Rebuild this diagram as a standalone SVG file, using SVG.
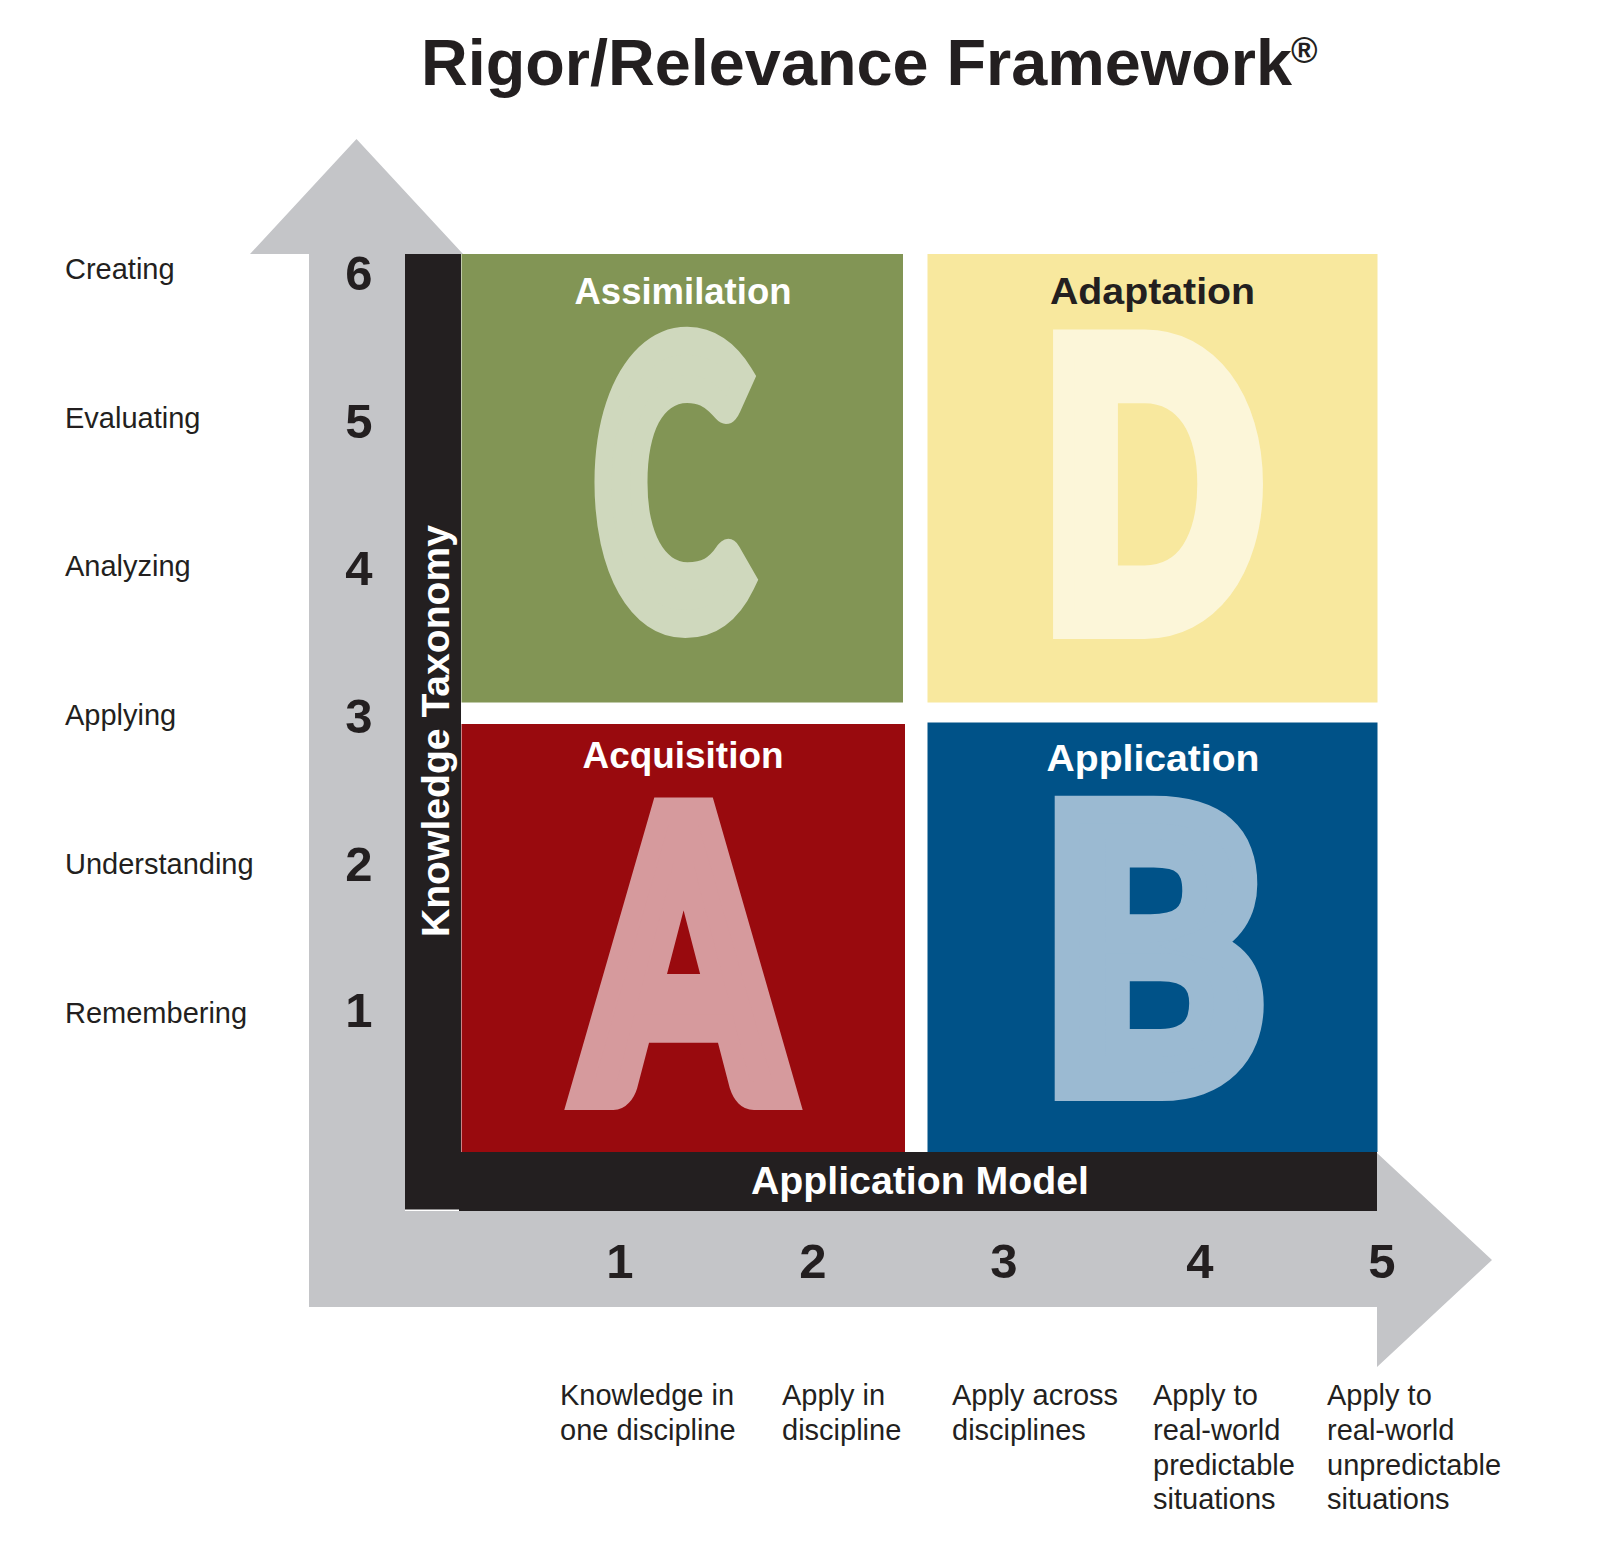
<svg xmlns="http://www.w3.org/2000/svg" width="1600" height="1543" viewBox="0 0 1600 1543">
<style>
.title{font-family:"Liberation Sans",Arial,sans-serif;font-weight:bold;fill:#231F20}
.lbl{font-family:"Liberation Sans",Arial,sans-serif;font-size:29px;fill:#231F20}
.num{font-family:"Liberation Sans",Arial,sans-serif;font-weight:bold;font-size:49px;fill:#231F20;text-anchor:middle}
.ql{font-family:"Liberation Sans",Arial,sans-serif;font-weight:bold;font-size:37px;text-anchor:middle}
.bar{font-family:"Liberation Sans",Arial,sans-serif;font-weight:bold;font-size:38px;fill:#FFFFFF;text-anchor:middle}
.big{font-family:"Lato","Liberation Sans",Arial,sans-serif;font-weight:900;text-anchor:middle;stroke-width:28;stroke-linejoin:miter}
</style>
<rect x="0" y="0" width="1600" height="1543" fill="#FFFFFF"/>
<g id="title">
<text class="title" x="421" y="85" font-size="65" textLength="871" lengthAdjust="spacingAndGlyphs">Rigor/Relevance Framework</text>
<text class="title" x="1291" y="63" font-size="36">®</text>
</g>
<g id="connectors">
<polygon points="309,1307 309,254 250,254 356.5,139 463,254 461,254 461,1211 1377,1211 1377,1153 1492,1260 1377,1367 1377,1307" fill="#C4C5C8"/>
<path d="M405,254 H461 V1152 H1377 V1211 H405 Z" fill="#231F20"/>
<rect x="405" y="1209.5" width="54" height="1.5" fill="#FFFFFF"/>
<text class="bar" transform="translate(449,731) rotate(-90)" textLength="412" lengthAdjust="spacingAndGlyphs">Knowledge Taxonomy</text>
<text class="bar" x="920" y="1194" textLength="338" lengthAdjust="spacingAndGlyphs">Application Model</text>
</g>
<g id="quadrant-C">
<rect x="461.5" y="254" width="441.5" height="448.5" fill="#829555"/>
<text class="ql" x="683" y="304" fill="#FFFFFF" textLength="217" lengthAdjust="spacingAndGlyphs">Assimilation</text>
<text class="big" x="672" y="621" font-size="382" fill="#CFD8BD" stroke="#CFD8BD" textLength="154" lengthAdjust="spacingAndGlyphs">C</text>
</g>
<g id="quadrant-D">
<rect x="927.5" y="254" width="450" height="448.5" fill="#F8E89E"/>
<text class="ql" x="1152.5" y="304" fill="#231F20" textLength="205" lengthAdjust="spacingAndGlyphs">Adaptation</text>
<text class="big" x="1152" y="625" font-size="388" fill="#FCF6D9" stroke="#FCF6D9" textLength="221" lengthAdjust="spacingAndGlyphs">D</text>
</g>
<g id="quadrant-A">
<rect x="461.5" y="724" width="443.5" height="428" fill="#990A0E"/>
<text class="ql" x="683" y="768" fill="#FFFFFF" textLength="201" lengthAdjust="spacingAndGlyphs">Acquisition</text>
<text class="big" x="683.5" y="1096" font-size="392" fill="#D69A9D" stroke="#D69A9D" textLength="203" lengthAdjust="spacingAndGlyphs">A</text>
</g>
<g id="quadrant-B">
<rect x="927.5" y="722.5" width="450" height="429.5" fill="#005288"/>
<text class="ql" x="1153" y="770.5" fill="#FFFFFF" textLength="213" lengthAdjust="spacingAndGlyphs">Application</text>
<text class="big" x="1153" y="1087" font-size="382" fill="#9BBAD2" stroke="#9BBAD2" textLength="223" lengthAdjust="spacingAndGlyphs">B</text>
</g>
<g id="rigor-levels">
<text class="lbl" x="65" y="279">Creating</text>
<text class="lbl" x="65" y="427.5">Evaluating</text>
<text class="lbl" x="65" y="576">Analyzing</text>
<text class="lbl" x="65" y="725">Applying</text>
<text class="lbl" x="65" y="874">Understanding</text>
<text class="lbl" x="65" y="1023">Remembering</text>
<text class="num" x="359" y="290">6</text>
<text class="num" x="359" y="438">5</text>
<text class="num" x="359" y="585">4</text>
<text class="num" x="359" y="733">3</text>
<text class="num" x="359" y="881">2</text>
<text class="num" x="359" y="1027">1</text>
</g>
<g id="relevance-levels">
<text class="num" x="620" y="1278">1</text>
<text class="num" x="813" y="1278">2</text>
<text class="num" x="1004" y="1278">3</text>
<text class="num" x="1200" y="1278">4</text>
<text class="num" x="1382" y="1278">5</text>
<text class="lbl" x="560" y="1405">Knowledge in</text>
<text class="lbl" x="560" y="1440">one discipline</text>
<text class="lbl" x="782" y="1405">Apply in</text>
<text class="lbl" x="782" y="1440">discipline</text>
<text class="lbl" x="952" y="1405">Apply across</text>
<text class="lbl" x="952" y="1440">disciplines</text>
<text class="lbl" x="1153" y="1405">Apply to</text>
<text class="lbl" x="1153" y="1440">real-world</text>
<text class="lbl" x="1153" y="1475">predictable</text>
<text class="lbl" x="1153" y="1509">situations</text>
<text class="lbl" x="1327" y="1405">Apply to</text>
<text class="lbl" x="1327" y="1440">real-world</text>
<text class="lbl" x="1327" y="1475">unpredictable</text>
<text class="lbl" x="1327" y="1509">situations</text>
</g>
</svg>
